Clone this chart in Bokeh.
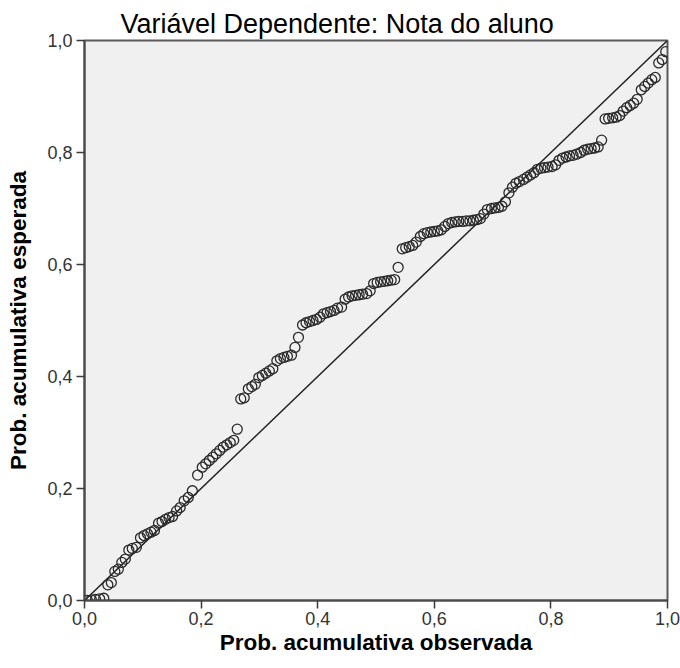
from bokeh.plotting import figure
from bokeh.models import Range1d, FixedTicker, CustomJSTickFormatter, ColumnDataSource
from bokeh.embed import file_html
from bokeh.resources import INLINE

title_text = "Variável Dependente: Nota do aluno"
x_label = "Prob. acumulativa observada"
y_label = "Prob. acumulativa esperada"
tick_values = [0.0, 0.2, 0.4, 0.6, 0.8, 1.0]
ref_x = [0.0, 1.0]
ref_y = [0.0, 1.0]

observed = [
    0.005, 0.012, 0.019, 0.026, 0.033,
    0.040, 0.046, 0.052, 0.058, 0.064, 0.070, 0.076, 0.082, 0.089, 0.096,
    0.102, 0.108, 0.114, 0.120, 0.127, 0.133, 0.139, 0.145, 0.151, 0.158,
    0.164, 0.171, 0.178, 0.185, 0.194,
    0.202, 0.208, 0.214, 0.220, 0.226, 0.232, 0.238, 0.244, 0.250, 0.256, 0.262,
    0.268, 0.274, 0.281, 0.287, 0.293, 0.299, 0.305, 0.311, 0.317, 0.323,
    0.330, 0.336, 0.342, 0.348, 0.355, 0.361, 0.367,
    0.374, 0.380, 0.386, 0.392, 0.398, 0.404, 0.410, 0.416, 0.422, 0.428,
    0.434, 0.441, 0.447, 0.453, 0.459, 0.465, 0.471, 0.477, 0.484, 0.490,
    0.496, 0.502, 0.508, 0.514, 0.520, 0.526, 0.532, 0.538,
    0.545, 0.551, 0.557, 0.563, 0.569, 0.576, 0.582, 0.588, 0.594, 0.600,
    0.606, 0.612, 0.618, 0.624, 0.630, 0.636, 0.642, 0.649, 0.655, 0.661,
    0.667, 0.673, 0.679, 0.685, 0.691, 0.698, 0.704, 0.710, 0.716, 0.722,
    0.728, 0.734, 0.740, 0.746, 0.753, 0.759, 0.765, 0.771, 0.777, 0.783,
    0.789, 0.795, 0.802, 0.808, 0.814, 0.820, 0.826, 0.832, 0.838, 0.844,
    0.851, 0.857, 0.863, 0.869, 0.875, 0.881, 0.887,
    0.893, 0.899, 0.906, 0.912, 0.918, 0.924, 0.930, 0.936, 0.942, 0.948,
    0.955, 0.961, 0.967, 0.973, 0.979, 0.985, 0.991, 0.997,
]
expected = [
    0.000, 0.001, 0.002, 0.003, 0.004,
    0.028, 0.032, 0.052, 0.056, 0.068, 0.074, 0.090, 0.093, 0.095, 0.112,
    0.116, 0.119, 0.122, 0.125, 0.138, 0.141, 0.145, 0.148, 0.150, 0.160,
    0.166, 0.178, 0.184, 0.196, 0.224,
    0.238, 0.244, 0.250, 0.256, 0.262, 0.268, 0.274, 0.278, 0.282, 0.286, 0.306,
    0.360, 0.362, 0.378, 0.382, 0.386, 0.398, 0.402, 0.406, 0.410, 0.414,
    0.428, 0.432, 0.434, 0.436, 0.438, 0.452, 0.470,
    0.492, 0.496, 0.498, 0.500, 0.502, 0.506, 0.512, 0.514, 0.516, 0.518,
    0.522, 0.524, 0.538, 0.542, 0.544, 0.545, 0.546, 0.547, 0.548, 0.553,
    0.566, 0.568, 0.569, 0.570, 0.571, 0.572, 0.573, 0.595,
    0.628, 0.630, 0.632, 0.634, 0.640, 0.650, 0.655, 0.657, 0.658, 0.659,
    0.660, 0.662, 0.668, 0.673, 0.675, 0.676, 0.677, 0.677, 0.678, 0.678,
    0.679, 0.680, 0.682, 0.690, 0.698, 0.700, 0.701, 0.702, 0.704, 0.712,
    0.728, 0.738, 0.745, 0.748, 0.752, 0.756, 0.760, 0.764, 0.770, 0.772,
    0.773, 0.774, 0.775, 0.778, 0.786, 0.790, 0.792, 0.794, 0.795, 0.797,
    0.800, 0.804, 0.806, 0.807, 0.808, 0.810, 0.822,
    0.860, 0.861, 0.862, 0.863, 0.866, 0.874, 0.880, 0.884, 0.888, 0.895,
    0.912, 0.918, 0.924, 0.930, 0.934, 0.960, 0.966, 0.980,
]

FONT = "Liberation Sans"

p = figure(
    width=680, height=668,
    x_range=Range1d(0, 1), y_range=Range1d(0, 1),
    output_backend="svg", toolbar_location=None,
    min_border_left=84, min_border_right=13,
    min_border_top=40, min_border_bottom=68,
    background_fill_color="#f0f0f0",
    border_fill_color="white",
)
p.outline_line_color = "#5a5a5a"
p.outline_line_width = 2
p.grid.visible = False

p.title.text = title_text
p.title.text_font = FONT
p.title.text_font_size = "27px"
p.title.text_font_style = "normal"
p.title.text_color = "black"
p.title.align = "left"
p.title.offset = 36
p.title.standoff = 4

for ax in (p.xaxis[0], p.yaxis[0]):
    ax.ticker = FixedTicker(ticks=tick_values)
    ax.formatter = CustomJSTickFormatter(code="return tick.toFixed(1).replace('.', ',');")
    ax.minor_tick_line_color = None
    ax.major_tick_in = 0
    ax.major_tick_out = 8
    ax.major_tick_line_color = "#3a3a3a"
    ax.major_tick_line_width = 1.5
    ax.axis_line_color = "#4a4a4a"
    ax.axis_line_width = 2
    ax.major_label_text_font = FONT
    ax.major_label_text_font_size = "18px"
    ax.major_label_text_color = "#333333"
    ax.axis_label_text_font = FONT
    ax.axis_label_text_font_size = "22.5px"
    ax.axis_label_text_font_style = "bold"
    ax.axis_label_text_color = "black"

p.xaxis.axis_label = x_label
p.yaxis.axis_label = y_label
p.xaxis.major_label_standoff = 3
p.xaxis.axis_label_standoff = 2
p.yaxis.major_label_standoff = 4
p.yaxis.axis_label_standoff = 13

p.line(ref_x, ref_y, line_color="#222222", line_width=1.5)

src = ColumnDataSource(data=dict(x=observed, y=expected))
p.scatter("x", "y", source=src, size=10, marker="circle",
          fill_color=None, line_color="#2a2a2a", line_width=1.3)

open("out.html", "w").write(file_html(p, INLINE))
